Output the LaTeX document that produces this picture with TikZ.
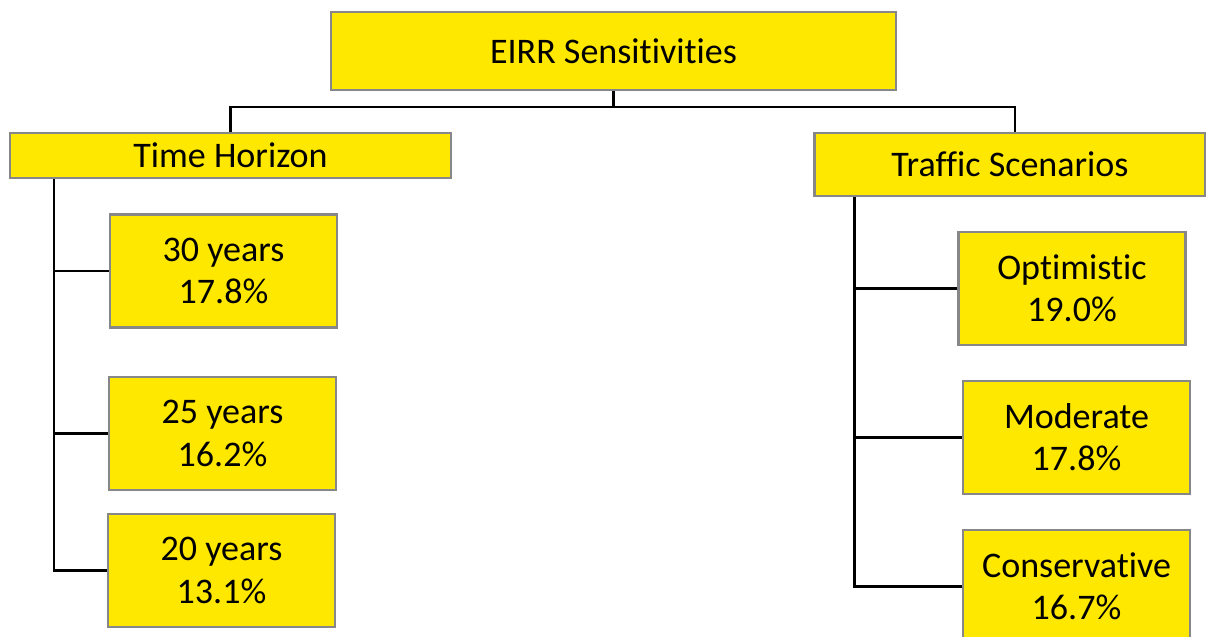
\documentclass[tikz,border=0pt]{standalone}
\usepackage{fontspec}
\setmainfont{Carlito}[Ligatures=NoCommon]
\usetikzlibrary{calc}
\definecolor{boxyellow}{RGB}{255,232,0}
\definecolor{boxgray}{RGB}{135,135,135}

\begin{document}
\begin{tikzpicture}[
        x=0.02cm, y=-0.02cm,
        box/.style={rectangle, fill=boxyellow, draw=boxgray, line width=1.3pt, align=center, inner sep=0pt, font=\fontsize{20.5}{24}\selectfont},
        leaf/.style={box, minimum width=4.54cm, minimum height=2.26cm},
        link/.style={line width=1.5pt, black},
        ]
    \useasboundingbox (0, 0) rectangle (1206, 636);

	\node (top) at (613.5, 51) [box, minimum width=11.3cm, minimum height=1.56cm] {EIRR Sensitivities};

    \node (time) at (230.5, 155.5) [box, minimum width=8.82cm, minimum height=0.9cm] {Time Horizon};
    \node (traffic) at (1010, 164.5) [box, minimum width=7.82cm, minimum height=1.26cm] {Traffic Scenarios};

    \draw [link] (top.south) -- ++(0, 16) coordinate (split) -| (time.north);
    \draw [link] (split) -| ([xshift=0.1cm]traffic.north);

    \node (y30) at (223.5, 271) [leaf] {30 years\\17.8\%};
    \node (y25) at (222.5, 433.5) [leaf] {25 years\\16.2\%};
    \node (y20) at (221.5, 570.5) [leaf] {20 years\\13.1\%};

    \coordinate (ltrunk) at ($(time.south west) + (45, 0)$);
    \draw [link] (ltrunk) |- (y20.west);
    \draw [link] (y30.west) -- (y30.west -| ltrunk);
    \draw [link] (y25.west) -- (y25.west -| ltrunk);

    \node (opt) at (1072, 288.5) [leaf] {Optimistic\\19.0\%};
    \node (mod) at (1076.5, 437.5) [leaf] {Moderate\\17.8\%};
    \node (cons) at (1076.5, 586.5) [leaf] {Conservative\\16.7\%};

    \coordinate (rtrunk) at ($(traffic.south west) + (41, 0)$);
    \draw [link] (rtrunk) |- (cons.west);
    \draw [link] (opt.west) -- (opt.west -| rtrunk);
    \draw [link] (mod.west) -- (mod.west -| rtrunk);
\end{tikzpicture}
\end{document}
